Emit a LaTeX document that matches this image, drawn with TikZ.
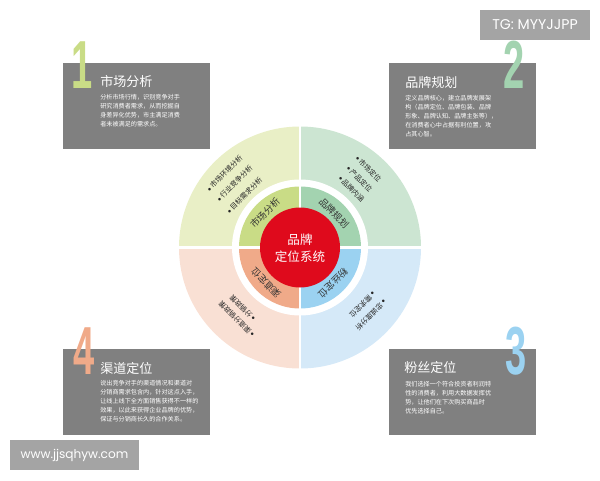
\documentclass[tikz,border=0pt]{standalone}
\usepackage{fontspec}
\usepackage{graphicx}
\setmainfont{Noto Sans CJK SC}
\newfontfamily\markfont{Poppins}
\newfontfamily\numfont{Liberation Sans}
\definecolor{paleA}{HTML}{E9EFC6}
\definecolor{paleB}{HTML}{CCE5D2}
\definecolor{paleC}{HTML}{D5E9F8}
\definecolor{paleD}{HTML}{F9E0D4}
\definecolor{deepA}{HTML}{C9DC86}
\definecolor{deepB}{HTML}{A3D3B0}
\definecolor{deepC}{HTML}{9BD2F1}
\definecolor{deepD}{HTML}{F0AA89}
\definecolor{panelgray}{HTML}{808080}
\definecolor{markgray}{HTML}{A4A4A4}
\definecolor{hubred}{HTML}{DF0A1C}
\tikzset{
	panel/.style={fill=panelgray},
	paneltitle/.style={text=white,anchor=west,inner sep=0pt,font=\fontsize{9.8}{10}\selectfont},
	paneltext/.style={text=white,anchor=north west,inner sep=0pt,align=left,font=\fontsize{4.6}{6.65}\selectfont},
	wedgelabel/.style={inner sep=0pt,text=black!80,font=\fontsize{7}{8}\selectfont},
	itemlabel/.style={inner sep=0pt,anchor=west,text=black!85,font=\fontsize{5.3}{6}\selectfont},
	bignum/.style={inner sep=0pt,font=\numfont\bfseries\fontsize{51}{51}\selectfont},
	markbox/.style={fill=markgray,text=white,inner sep=0pt}
}
\newcommand{\slimnum}[1]{\scalebox{0.56}[1]{#1}}
\newcommand{\dotmark}{\raisebox{0.25ex}{\scalebox{0.42}{●}}\,}
\begin{document}
\begin{tikzpicture}[x=0.75pt,y=0.75pt]
	\useasboundingbox (0,0) rectangle (600,480);
	\coordinate (hub) at (300,232.5);
	% outer ring
	\foreach \a/\c in {0/paleB,90/paleA,180/paleD,270/paleC}{
		\fill[\c] (hub) -- ++(\a:121) arc[start angle=\a,end angle=\a+90,radius=121] -- cycle;
	}
	\fill[white] (hub) circle[radius=68];
	% inner ring
	\foreach \a/\c in {0/deepB,90/deepA,180/deepD,270/deepC}{
		\fill[\c] (hub) -- ++(\a:61) arc[start angle=\a,end angle=\a+90,radius=61] -- cycle;
	}
	\draw[white,line width=1.8pt] (hub) ++(-122,0) coordinate (gapw) -- ++(244,0) coordinate (gape);
	\draw[white,line width=1.8pt] (hub) ++(0,-122) coordinate (gaps) -- ++(0,244) coordinate (gapn);
	\fill[hubred] (hub) circle[radius=40];
	\node[text=white,align=center,inner sep=0pt,font=\fontsize{9.4}{13}\selectfont] (hubtext) at (300,232) {品牌\\定位系统};
	% inner labels
	\node[wedgelabel,rotate=45] (labA) at (265,267) {市场分析};
	\node[wedgelabel,rotate=-45] (labB) at (334,267) {品牌规划};
	\node[wedgelabel,rotate=225] (labC) at (333,197) {粉丝定位};
	\node[wedgelabel,rotate=135] (labD) at (266,197) {渠道定位};
	% outer items
	\foreach \n/\x/\y/\t in {a/208/290/市场环境分析,b/218/280/行业竞争分析,c/228/268/目标需求分析}{
		\node[itemlabel,rotate=45] (item\n) at (\x,\y) {\dotmark\t};
	}
	\foreach \n/\x/\y/\t in {d/357/323/市场定位,e/348/313/产品定位,f/340/303/品牌内涵}{
		\node[itemlabel,rotate=-45] (item\n) at (\x,\y) {\dotmark\t};
	}
	\foreach \n/\x/\y/\t in {g/374/187/需求定位,h/385/179/忠诚度分析}{
		\node[itemlabel,rotate=225] (item\n) at (\x,\y) {\dotmark\t};
	}
	\foreach \n/\x/\y/\t in {i/254/160/分销政策,j/253/144/渠道分销政策}{
		\node[itemlabel,rotate=135] (item\n) at (\x,\y) {\dotmark\t};
	}
	% panels
	\fill[panel] (63,331) rectangle (210,417);
	\fill[panel] (389,331) rectangle (536,417);
	\fill[panel] (389,45) rectangle (536,131);
	\fill[panel] (63,45) rectangle (210,131);
	\node[paneltitle] (titleA) at (100,398) {市场分析};
	\node[paneltext] (textA) at (100,385.5) {分析市场行情，识别竞争对手\\研究消费者需求，从而挖掘自\\身差异化优势，市主满足消费\\者未被满足的需求点。};
	\node[paneltitle] (titleB) at (405,397) {品牌规划};
	\node[paneltext] (textB) at (405,384.5) {定义品牌核心，建立品牌发展架\\构（品牌定位、品牌包装、品牌\\形象、品牌认知、品牌主张等），\\在消费者心中占据有利位置，攻\\占其心智。};
	\node[paneltitle] (titleC) at (404,112) {粉丝定位};
	\node[paneltext] (textC) at (405,98.5) {我们选择一个符合投资者利润特\\性的消费者，利用大数据发挥优\\势，让他们在下次购买商品时\\优先选择自己。};
	\node[paneltitle] (titleD) at (100,111) {渠道定位};
	\node[paneltext] (textD) at (100,99.5) {说出竞争对手的渠道情况和渠道对\\分销商需求包含内，针对这点入手，\\让线上线下全方面销售获得不一样的\\效果，以此来获得企业品牌的优势，\\保证与分销商长久的合作关系。};
	% numerals
	\node[bignum,text=deepA] (numA) at (82,415) {\slimnum{1}};
	\node[bignum,text=deepB] (numB) at (514,415) {\slimnum{2}};
	\node[bignum,text=deepC] (numC) at (516,129) {\slimnum{3}};
	\node[bignum,text=deepD] (numD) at (84,129) {\slimnum{4}};
	% watermarks
	\node[markbox,minimum width=82.5pt,minimum height=22.5pt,font=\markfont\fontsize{10.6}{12}\selectfont] (markA) at (535,455) {TG: MYYJJPP};
	\node[markbox,minimum width=96.75pt,minimum height=22.5pt,font=\markfont\fontsize{9.1}{11}\selectfont] (markB) at (74.5,25) {www.jjsqhyw.com};
\end{tikzpicture}
\end{document}
